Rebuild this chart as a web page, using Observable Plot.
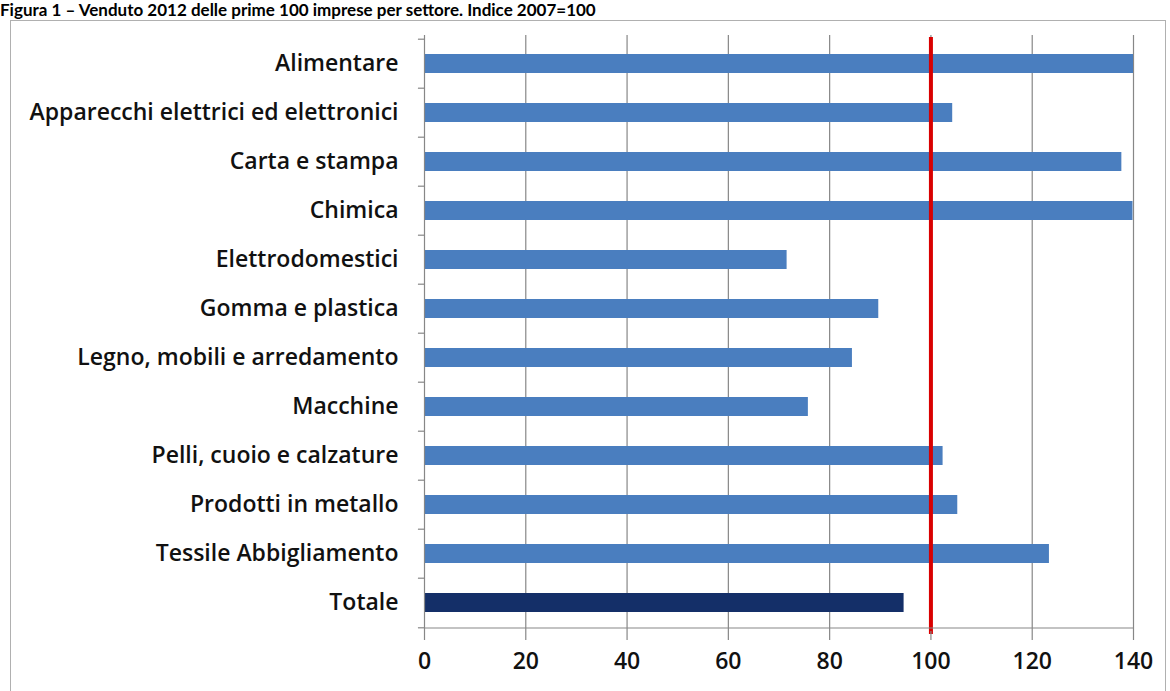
<!DOCTYPE html>
<html>
<head>
<meta charset="utf-8">
<script src="https://cdn.jsdelivr.net/npm/d3@7"></script>
<script src="https://cdn.jsdelivr.net/npm/@observablehq/plot@0.6"></script>
<style>
  html, body { margin: 0; padding: 0; background: #fff; overflow: hidden; }
  #wrap { position: relative; width: 1170px; height: 691px; overflow: hidden; }
  #title { position: absolute; left: 0; top: 0; font: bold 17px/19px Lato, sans-serif; color: #000; white-space: nowrap; }
  #frame { position: absolute; left: 10px; top: 20px; width: 1154px; height: 700px; border: 1px solid #b0b0b0; }
  #chart { position: absolute; left: 0; top: 0; }
</style>
</head>
<body>
<div id="wrap">
  <div id="title">Figura 1 – Venduto 2012 delle prime 100 imprese per settore. Indice 2007=100</div>
  <div id="frame"></div>
  <div id="chart"></div>
</div>
<script>
const categories = [
  "Alimentare",
  "Apparecchi elettrici ed elettronici",
  "Carta e stampa",
  "Chimica",
  "Elettrodomestici",
  "Gomma e plastica",
  "Legno, mobili e arredamento",
  "Macchine",
  "Pelli, cuoio e calzature",
  "Prodotti in metallo",
  "Tessile Abbigliamento",
  "Totale"
];
const values = [140, 104.3, 137.7, 139.9, 71.6, 89.7, 84.5, 75.8, 102.4, 105.3, 123.4, 94.7];
const xTicks = [0, 20, 40, 60, 80, 100, 120, 140];
const reference = [100];

const data = categories.map((c, i) => ({category: c, value: values[i], total: c === "Totale"}));

const font = "'Open Sans', sans-serif";
const plot = Plot.plot({
  width: 1170,
  height: 691,
  marginLeft: 424,
  marginRight: 37,
  marginTop: 35,
  marginBottom: 60,
  style: {fontFamily: font, fontSize: "23px", fontWeight: 600, color: "#111", background: "transparent"},
  x: {domain: [0, 140], ticks: xTicks},
  y: {domain: categories, paddingInner: 0.62, paddingOuter: 0.31},
  marks: [
    Plot.gridX(xTicks.filter(d => d > 0), {stroke: "#878787", strokeOpacity: 1, strokeWidth: 1.2}),
    Plot.barX(data, {y: "category", x: "value", fill: d => d.total ? "#142f68" : "#4a7ebf", clip: true}),
    Plot.ruleX(reference, {stroke: "#d90000", strokeWidth: 4, insetTop: 2, insetBottom: -3}),
    Plot.ruleY(categories, {y: d => d, x1: -1.2, x2: 0, dy: -24.8, stroke: "#878787", strokeWidth: 1.2}),
    Plot.ruleY(categories.slice(-1), {y: d => d, x1: -1.2, x2: 0, dy: 24.8, stroke: "#878787", strokeWidth: 1.2}),
    Plot.ruleX([0], {stroke: "#878787", strokeWidth: 1.2}),
    Plot.ruleY([0], {y: () => categories[categories.length - 1], dy: 25, x1: 0, x2: 140, stroke: "#878787", strokeWidth: 1.2}),
    Plot.axisX({ticks: xTicks, tickSize: 9, tickPadding: 12, stroke: "#878787", strokeWidth: 1.2, fill: "#111", fontSize: 23, fontWeight: 600, label: null, tickFormat: d => String(d)}),
    Plot.axisY({tickSize: 0, tickPadding: 26, fill: "#111", fontSize: 23, fontWeight: 600, label: null})
  ]
});
document.getElementById("chart").appendChild(plot);
</script>
</body>
</html>
